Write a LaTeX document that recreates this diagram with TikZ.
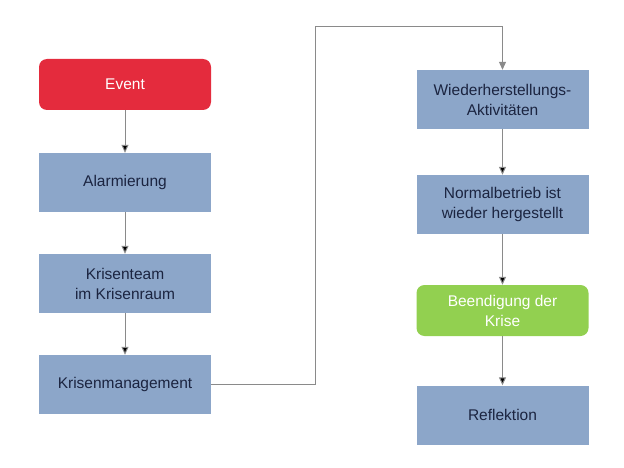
\documentclass[tikz,border=0pt]{standalone}
\usepackage{fontspec}
\setmainfont{Liberation Sans}
\usepackage{tikz}
\usetikzlibrary{arrows.meta,positioning}
\definecolor{evred}{HTML}{E42B3D}
\definecolor{stepblue}{HTML}{8CA6C9}
\definecolor{endgreen}{HTML}{92D050}
\definecolor{txtnavy}{HTML}{1B2440}
\definecolor{linegray}{HTML}{8A8A8A}
\tikzset{
    phase/.style={
    rectangle,fill=stepblue,text=txtnavy,minimum width=172pt,minimum height=59pt,
    align=center,font=\fontsize{15.5}{20}\selectfont,inner sep=0pt
    },
    rphase/.style={
    rectangle,rounded corners=8pt,text=white,minimum width=172pt,minimum height=51pt,
    align=center,font=\fontsize{15.5}{20}\selectfont,inner sep=0pt
    },
    flow/.style={
    draw=linegray,line width=1pt,-{Triangle[width=7pt,length=8pt]}
    },
}
\begin{document}
\begin{tikzpicture}[x=1pt,y=-1pt]
   \useasboundingbox (0,0) rectangle (624,468);
   \node[rphase,fill=evred] (EV)  at (125,84.5)  {Event};
   \node[phase] (AL) at (125,182.5) {Alarmierung};
   \node[phase] (KT) at (125,283.5) {Krisenteam\\im Krisenraum};
   \node[phase] (KM) at (125,384.5) {Krisenmanagement};
   \node[phase] (WA) at (502.5,99.5)  {Wiederherstellungs-\\Aktivit\"aten};
   \node[phase] (NB) at (502.5,204.5) {Normalbetrieb ist\\wieder hergestellt};
   \node[rphase,fill=endgreen] (BK) at (502.5,310.5) {Beendigung der\\Krise};
   \node[phase] (RF) at (502.5,415)   {Reflektion};
   \coordinate (c1) at (315,384.5);
   \coordinate (c2) at (315,27);
   \coordinate (c3) at (502.5,27);

  \path[flow]
    (EV) edge (AL)
    (AL) edge (KT)
    (KT) edge (KM)
    (WA) edge (NB)
    (NB) edge (BK)
    (BK) edge (RF);
  \draw[flow] (KM.east) -- (c1) -- (c2) -- (c3) -- (WA.north);
\end{tikzpicture}
\end{document}
